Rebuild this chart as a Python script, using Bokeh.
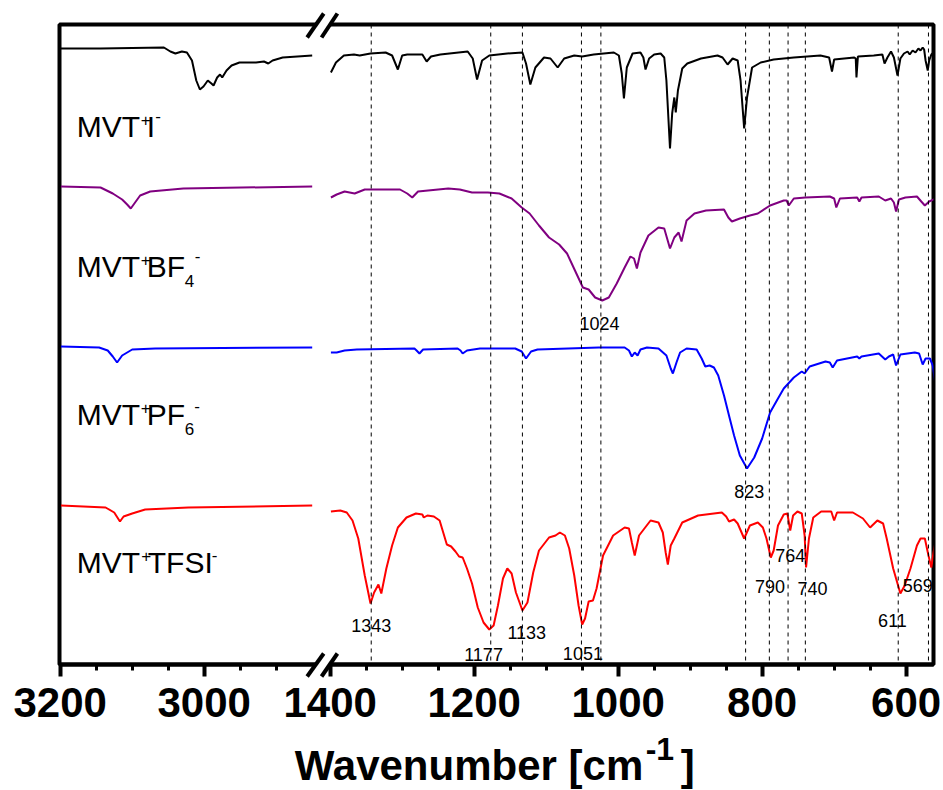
from bokeh.plotting import figure
from bokeh.models import Range1d, FixedTicker, Span
from bokeh.core.properties import value
from bokeh.embed import file_html
from bokeh.resources import INLINE

# ---------------- data (wavenumber cm-1, transmittance in a.u. with vertical offsets) -------------
BREAK_SHIFT = 1425          # 3200-2850 segment is drawn shifted next to the 1400-560 segment

iodide_high = [(3199, 616), (3144, 616), (3056, 617), (3047, 613), (3040, 611), (3031, 613), (3024, 612),
               (3017, 604), (3011, 584), (3006, 575), (3001, 578), (2995, 584), (2990, 581), (2987, 579),
               (2982, 587), (2978, 590), (2975, 587), (2969, 594), (2962, 599), (2951, 602), (2928, 602),
               (2917, 603), (2911, 601), (2905, 604), (2891, 607), (2850, 609)]
iodide_low = [(1399, 592), (1392, 602), (1381, 609), (1367, 610), (1359, 609), (1344, 611), (1323, 612),
              (1314, 609), (1306, 595), (1300, 609), (1293, 610), (1272, 610), (1266, 603), (1260, 608),
              (1247, 610), (1209, 613), (1202, 606), (1196, 585), (1189, 604), (1179, 609), (1154, 611),
              (1133, 612), (1128, 601), (1122, 580), (1115, 597), (1103, 607), (1094, 606), (1084, 597),
              (1075, 606), (1061, 609), (1050, 608), (1034, 610), (1006, 612), (999, 609), (995, 591),
              (992, 566), (988, 597), (980, 611), (969, 612), (965, 607), (962, 595), (957, 606), (950, 610),
              (941, 611), (936, 607), (933, 584), (928, 516), (925, 551), (922, 567), (920, 552), (917, 574),
              (911, 596), (904, 601), (885, 606), (862, 609), (855, 607), (848, 600), (841, 606), (834, 604),
              (830, 584), (825, 536), (821, 567), (814, 597), (802, 602), (784, 605), (756, 607), (719, 609),
              (707, 607), (703, 593), (700, 605), (672, 607), (670, 606), (669, 587), (667, 608), (645, 609),
              (633, 610), (630, 601), (626, 607), (621, 613), (617, 607), (612, 589), (608, 606), (603, 611),
              (598, 613), (595, 610), (591, 614), (587, 612), (583, 616), (580, 614), (577, 617), (575, 615),
              (573, 604), (570, 594), (568, 604), (565, 610), (562, 612)]

bf4_high = [(3199, 478), (3144, 477), (3127, 471), (3114, 465), (3107, 460), (3102, 456), (3097, 461),
            (3089, 469), (3075, 473), (3029, 476), (2850, 478)]
bf4_low = [(1399, 467), (1391, 470), (1380, 473), (1366, 471), (1352, 475), (1303, 475), (1293, 471),
           (1286, 467), (1278, 473), (1236, 476), (1220, 475), (1203, 472), (1181, 472), (1165, 471),
           (1148, 466), (1134, 457), (1123, 451), (1110, 439), (1096, 427), (1082, 420), (1071, 411),
           (1060, 394), (1049, 377), (1041, 375), (1032, 367), (1022, 364), (1013, 367), (1002, 381),
           (991, 397), (983, 408), (978, 406), (974, 396), (969, 412), (958, 429), (944, 437), (936, 436),
           (928, 416), (922, 427), (916, 432), (912, 423), (905, 444), (894, 451), (878, 454), (853, 455),
           (847, 447), (842, 443), (831, 446), (817, 449), (806, 451), (789, 459), (770, 464), (766, 464),
           (763, 459), (756, 466), (740, 467), (706, 468), (700, 466), (697, 457), (692, 466), (668, 467),
           (665, 463), (662, 467), (638, 468), (629, 464), (621, 466), (617, 462), (614, 453), (610, 465),
           (601, 467), (585, 468), (579, 463), (574, 459), (568, 463), (559, 466)]

pf6_high = [(3199, 318), (3146, 317), (3134, 314), (3127, 308), (3121, 302), (3114, 309), (3100, 315),
            (3068, 316), (2850, 317)]
pf6_low = [(1399, 312), (1391, 312), (1380, 314), (1363, 315), (1283, 316), (1280, 314), (1276, 311),
           (1271, 315), (1223, 316), (1219, 314), (1216, 311), (1210, 314), (1192, 316), (1143, 316),
           (1134, 313), (1128, 306), (1121, 313), (1112, 315), (1027, 317), (991, 317), (985, 314),
           (981, 308), (977, 312), (973, 309), (969, 315), (960, 317), (944, 316), (933, 309), (927, 296),
           (924, 291), (919, 302), (914, 312), (905, 316), (891, 315), (884, 306), (879, 298), (873, 299),
           (867, 297), (861, 289), (853, 269), (845, 246), (839, 229), (831, 209), (821, 196), (811, 207),
           (800, 226), (789, 252), (778, 266), (770, 276), (756, 287), (745, 293), (741, 291), (734, 298),
           (712, 303), (706, 302), (702, 297), (696, 304), (668, 308), (665, 306), (662, 308), (638, 311),
           (629, 305), (624, 308), (618, 310), (614, 299), (608, 310), (588, 312), (582, 311), (577, 300),
           (573, 306), (567, 306), (563, 299), (559, 279)]

tfsi_high = [(3199, 159), (3137, 157), (3125, 152), (3117, 143), (3112, 148), (3100, 151), (3082, 155),
             (3022, 157), (2850, 159)]
tfsi_low = [(1399, 153), (1386, 154), (1377, 152), (1369, 144), (1361, 126), (1352, 89), (1344, 61),
            (1339, 72), (1333, 80), (1329, 71), (1322, 96), (1314, 119), (1306, 137), (1294, 147),
            (1281, 151), (1272, 150), (1270, 147), (1265, 149), (1256, 148), (1248, 144), (1243, 132),
            (1238, 120), (1232, 118), (1226, 113), (1221, 108), (1216, 107), (1210, 96), (1203, 81),
            (1195, 57), (1187, 42), (1179, 35), (1173, 39), (1167, 59), (1160, 86), (1154, 96), (1148, 91),
            (1142, 72), (1133, 54), (1126, 62), (1118, 92), (1110, 114), (1096, 127), (1087, 129),
            (1081, 132), (1074, 129), (1068, 116), (1061, 89), (1055, 59), (1050, 40), (1046, 46),
            (1041, 63), (1035, 64), (1030, 76), (1021, 109), (1007, 129), (991, 137), (985, 136), (981, 122),
            (977, 109), (971, 129), (955, 144), (944, 142), (938, 132), (934, 112), (931, 100), (927, 119),
            (922, 126), (911, 142), (889, 149), (856, 152), (850, 148), (846, 143), (839, 145), (834, 141),
            (825, 126), (817, 139), (806, 142), (799, 137), (794, 126), (788, 107), (784, 114), (778, 139),
            (770, 150), (765, 151), (761, 134), (757, 149), (751, 153), (745, 151), (741, 129), (739, 97),
            (735, 126), (729, 147), (718, 153), (704, 153), (700, 144), (696, 152), (674, 152), (660, 146),
            (650, 137), (640, 144), (632, 141), (627, 126), (618, 96), (608, 71), (602, 79), (594, 96),
            (585, 119), (580, 126), (574, 126), (569, 109), (565, 97), (562, 112), (558, 127)]

peak_positions = [1343, 1177, 1133, 1051, 1024, 823, 790, 764, 740, 611, 569]
peak_texts = [str(v) for v in peak_positions]
# label placement (wavenumber of label centre, baseline height)
peak_label_x = [1343, 1187, 1127, 1049, 1026, 818, 789, 761, 730, 619, 584]
peak_label_y = [33, 4, 26, 5, 335, 167, 72, 103, 70, 38, 73]

major_tick_wn = [3200, 3000, 1400, 1200, 1000, 800, 600]
minor_tick_wn = [3150, 3100, 3050, 2950, 2900, 1350, 1300, 1250, 1150, 1100, 1050, 950, 900, 850,
                 750, 700, 650]

series = [(iodide_high, iodide_low, "black"),
          (bf4_high, bf4_low, "#800080"),
          (pf6_high, pf6_low, "#0000ff"),
          (tfsi_high, tfsi_low, "#ff0000")]

# sample names as (text, role) pieces; role n = normal, sup = superscript, sub = subscript
name_pieces = [
    [("MVT", "n"), ("+", "sup"), ("I", "n"), ("-", "sup")],
    [("MVT", "n"), ("+", "sup"), ("BF", "n"), ("4", "sub"), ("-", "sup")],
    [("MVT", "n"), ("+", "sup"), ("PF", "n"), ("6", "sub"), ("-", "sup")],
    [("MVT", "n"), ("+", "sup"), ("TFSI", "n"), ("-", "sup")],
]
name_baseline = [527, 387, 239, 91]
name_dx = [[0, 64, 70, 78.5], [0, 64, 70, 108, 118], [0, 64, 70, 108, 117.5],
           [0, 64.5, 71, 135]]
name_dy = {"n": 0, "sup": -11, "sub": 10}
sup_dy_minus = [-15, -15, -13.5, -12]

FONT = "Liberation Sans"
BASE_FIX = 0.36   # vertical correction (fraction of font size) for the svg text baseline


def axis_pos(w):
    return w - BREAK_SHIFT if w > 2000 else w


def fix(size):
    return -BASE_FIX * size


p = figure(width=943, height=790, x_range=Range1d(1776, 562), y_range=Range1d(0, 640),
           output_backend="svg", toolbar_location=None, y_axis_location=None,
           min_border_left=59, min_border_right=10, min_border_top=24, min_border_bottom=126,
           background_fill_color="white", border_fill_color="white",
           outline_line_color="black", outline_line_width=4)
p.grid.visible = False

ax = p.xaxis[0]
ax.ticker = FixedTicker(ticks=[axis_pos(w) for w in major_tick_wn],
                        minor_ticks=[axis_pos(w) for w in minor_tick_wn])
ax.major_label_overrides = {axis_pos(w): str(w) for w in major_tick_wn}
ax.axis_line_width = 4
ax.axis_line_color = "black"
ax.major_tick_line_width = 4
ax.major_tick_out = 12
ax.major_tick_in = 0
ax.minor_tick_line_width = 3
ax.minor_tick_out = 6
ax.minor_tick_in = 0
ax.major_label_text_font = FONT
ax.major_label_text_font_style = "bold"
ax.major_label_text_font_size = "42px"
ax.major_label_text_color = "black"
ax.major_label_standoff = 11

# dashed guide lines at assigned peaks
for w in peak_positions:
    p.add_layout(Span(location=w, dimension="height", line_color="black",
                      line_width=1, line_dash="4 4"))

# spectra
for high, low, color in series:
    p.line([axis_pos(w) for w, _ in high], [t for _, t in high], line_color=color, line_width=2)
    p.line([axis_pos(w) for w, _ in low], [t for _, t in low], line_color=color, line_width=2)

# peak labels
p.text(x=peak_label_x, y=peak_label_y, text=peak_texts, y_offset=fix(18), text_align="center",
       text_baseline="alphabetic", text_font=value(FONT), text_font_size="18px", text_color="black")

# sample names
anchor_x = 1752
for i, pieces in enumerate(name_pieces):
    xs, ys, ts, dxs, dys, sizes = [], [], [], [], [], []
    for j, (t, role) in enumerate(pieces):
        size = 30 if role == "n" else 17
        xs.append(anchor_x)
        ys.append(name_baseline[i])
        ts.append(t)
        dxs.append(name_dx[i][j])
        dy = sup_dy_minus[i] if (role == "sup" and t == "-") else name_dy[role]
        dys.append(dy + fix(size))
        sizes.append(f"{size}px")
    p.text(x=xs, y=ys, text=ts, x_offset=dxs, y_offset=dys, text_font_size=sizes,
           text_align="left", text_baseline="alphabetic", text_font=value(FONT), text_color="black")

# axis title (drawn as text pieces below the frame)
title_x = 1400 + 35.5 / 0.72  # horizontal start of the title
p.text(x=[title_x, title_x, title_x], y=[-116, -96, -116],
       text=["Wavenumber [cm", "-1", "]"], x_offset=[0, 351, 386],
       y_offset=[fix(42), fix(32), fix(42)],
       text_font_size=["42px", "32px", "42px"], text_font=value(FONT), text_font_style="bold",
       text_align="left", text_baseline="alphabetic", text_color="black", level="overlay")

# axis break marks on the top and bottom spines
brk = 1411
for y_lo, y_hi in [(-12, 11), (627, 651)]:
    p.patch([brk + 21, brk - 2, brk - 21, brk + 1], [y_lo, y_hi, y_hi, y_lo],
            fill_color="white", line_color=None, level="overlay")
    p.segment(x0=[brk + 21, brk + 1], y0=[y_lo, y_lo], x1=[brk - 2, brk - 21], y1=[y_hi, y_hi],
              line_color="black", line_width=4, level="overlay")

open("out.html", "w").write(file_html(p, INLINE))
